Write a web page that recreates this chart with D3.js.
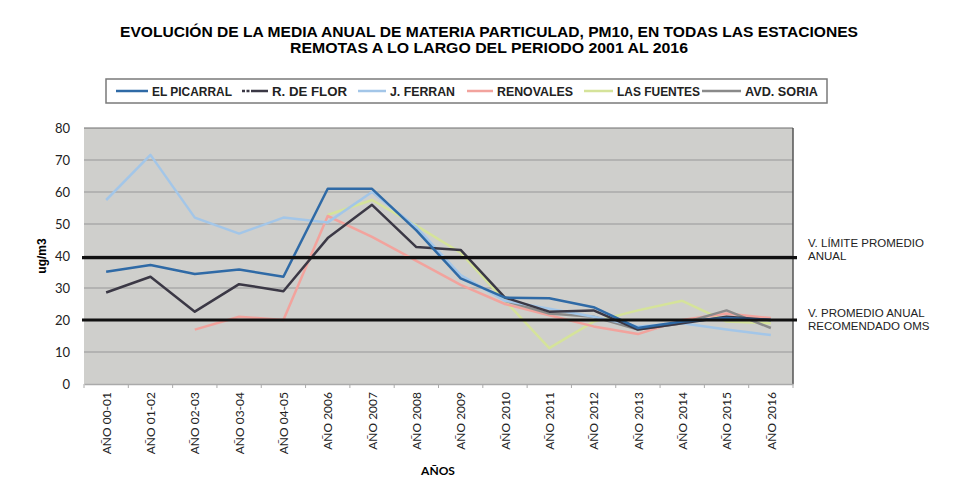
<!DOCTYPE html>
<html>
<head>
<meta charset="utf-8">
<script src="https://cdn.jsdelivr.net/npm/d3@7"></script>
<style>
  body { margin: 0; background: #fff; }
  text { font-family: "Liberation Sans", Arial, sans-serif; }
</style>
</head>
<body>
<div id="chart"></div>
<script>
var years = ['AÑO 00-01', 'AÑO 01-02', 'AÑO 02-03', 'AÑO 03-04', 'AÑO 04-05', 'AÑO 2006', 'AÑO 2007', 'AÑO 2008',
    'AÑO 2009', 'AÑO 2010', 'AÑO 2011', 'AÑO 2012', 'AÑO 2013', 'AÑO 2014', 'AÑO 2015', 'AÑO 2016'];

var elPicarral = [35.1, 37.2, 34.4, 35.8, 33.5, 61, 61, 48, 33, 27, 26.8, 24, 17.5, 19.5, 20.6, 20];
var rDeFlor = [28.6, 33.5, 22.6, 31.2, 29, 45.6, 56, 42.8, 41.9, 27, 22.6, 23, 17, 19, 21, 20];
var jFerran = [57.5, 71.6, 52, 47, 52, 50.5, 60, 49, 34, 26, 23.5, 21, 18, 19, 17, 15.3];
var renovales = [null, null, 17, 21, 20, 52.5, 46, 38.5, 31, 25, 21.5, 18, 15.6, 20, 22, 20.6];
var lasFuentes = [null, null, null, null, null, 52.8, 57.5, 49.5, 41, 26, 11.2, 19.5, 23, 26, 19.5, 19];
var avdSoria = [null, null, null, null, null, null, null, null, null, 26, 22, 21, 17, 19, 23, 17.5];

var seriesNames = ['EL PICARRAL', 'R. DE FLOR', 'J. FERRAN', 'RENOVALES', 'LAS FUENTES', 'AVD. SORIA'];
var seriesColors = ['#2f6aa6', '#3b3845', '#a3c6e8', '#f2a39d', '#d5e39a', '#8a8a8a'];
var yTicks = [0, 10, 20, 30, 40, 50, 60, 70, 80];
var limitValues = [39.5, 20];

var width = 958,
    height = 499;

var series = [elPicarral, rDeFlor, jFerran, renovales, lasFuentes, avdSoria].map(function (vals, i) {
    return { name: seriesNames[i], color: seriesColors[i], values: vals };
});

var svg = d3.select('#chart').append('svg')
    .attr('width', width)
    .attr('height', height);

var x = d3.scalePoint()
    .domain(years)
    .range([84, 793])
    .padding(0.5);

var y = d3.scaleLinear()
    .domain([0, 80])
    .range([384, 128]);

// title
svg.append('text')
    .attr('x', 489).attr('y', 37)
    .attr('text-anchor', 'middle')
    .attr('textLength', 738).attr('lengthAdjust', 'spacingAndGlyphs')
    .style('font-size', '14px').style('font-weight', 'bold')
    .text('EVOLUCIÓN  DE LA MEDIA ANUAL DE MATERIA PARTICULAD, PM10, EN TODAS LAS ESTACIONES');
svg.append('text')
    .attr('x', 489).attr('y', 53)
    .attr('text-anchor', 'middle')
    .attr('textLength', 398).attr('lengthAdjust', 'spacingAndGlyphs')
    .style('font-size', '14px').style('font-weight', 'bold')
    .text('REMOTAS A LO LARGO DEL PERIODO 2001 AL 2016');

// legend
var legend = svg.append('g');
legend.append('rect')
    .attr('x', 106).attr('y', 79)
    .attr('width', 721).attr('height', 24)
    .attr('fill', '#fff')
    .attr('stroke', '#7a7a7a')
    .attr('stroke-width', 1.5);

var legendLineX = [116, 242, 358, 467, 584, 702];
var legendTextX = [152, 272, 390, 497, 617, 745];
var legendTextW = [80, 75, 65, 76, 83, 73];
series.forEach(function (s, i) {
    legend.append('line')
        .attr('x1', legendLineX[i]).attr('x2', legendTextX[i] - 4)
        .attr('y1', 91).attr('y2', 91)
        .attr('stroke', s.color)
        .attr('stroke-width', 2.5)
        .attr('stroke-dasharray', i === 1 ? '3,1.5,3,1.5,20' : null);
    legend.append('text')
        .attr('x', legendTextX[i]).attr('y', 95.5)
        .attr('textLength', legendTextW[i]).attr('lengthAdjust', 'spacingAndGlyphs')
        .style('font-size', '12px').style('font-weight', 'bold')
        .attr('fill', '#222')
        .text(s.name);
});

// plot area
var plot = svg.append('g');
plot.append('rect')
    .attr('x', 84).attr('y', 128)
    .attr('width', 709).attr('height', 256)
    .attr('fill', '#cfcfcc');

plot.selectAll('.grid')
    .data(yTicks.slice(1))
    .enter().append('line')
    .attr('x1', 84).attr('x2', 793)
    .attr('y1', function (d) { return y(d); })
    .attr('y2', function (d) { return y(d); })
    .attr('stroke', function (d) { return d === 80 ? '#6e6e6e' : '#979797'; })
    .attr('stroke-width', 1.2);

plot.append('line')
    .attr('x1', 793).attr('x2', 793)
    .attr('y1', 128).attr('y2', 384)
    .attr('stroke', '#555')
    .attr('stroke-width', 1.5);

// y axis
var yAxis = svg.append('g')
    .attr('transform', 'translate(84,0)')
    .call(d3.axisLeft(y).tickValues(yTicks).tickSize(0).tickPadding(14));
yAxis.select('.domain').remove();
yAxis.selectAll('text')
    .style('font-family', 'Lato, "Open Sans", sans-serif')
    .style('font-size', '13px')
    .attr('fill', '#222');

// x axis
var xAxis = svg.append('g')
    .attr('transform', 'translate(0,384)')
    .call(d3.axisBottom(x).tickSize(0));
xAxis.select('.domain').attr('stroke', '#aaa').attr('stroke-width', 1.5);
xAxis.selectAll('text')
    .style('font-family', 'Lato, "Open Sans", sans-serif')
    .style('font-size', '12px')
    .attr('fill', '#222')
    .attr('text-anchor', 'end')
    .attr('transform', 'rotate(-90)')
    .attr('x', -8).attr('y', 0).attr('dy', '0.35em');

var step = x.step();
svg.append('g').selectAll('line')
    .data(years.concat(['end']))
    .enter().append('line')
    .attr('x1', function (d, i) { return 84 + i * step; })
    .attr('x2', function (d, i) { return 84 + i * step; })
    .attr('y1', 384).attr('y2', 388)
    .attr('stroke', '#aaa');

// series lines
var line = d3.line()
    .defined(function (d) { return d != null; })
    .x(function (d, i) { return x(years[i]); })
    .y(function (d) { return y(d); });

var order = [4, 3, 5, 2, 1, 0];
order.forEach(function (k) {
    var s = series[k];
    svg.append('path')
        .datum(s.values)
        .attr('fill', 'none')
        .attr('stroke', s.color)
        .attr('stroke-width', 2.5)
        .attr('stroke-linejoin', 'round')
        .attr('d', line);
});

// limit lines
svg.selectAll('.limit')
    .data(limitValues)
    .enter().append('line')
    .attr('x1', 82).attr('x2', 797)
    .attr('y1', function (d) { return y(d); })
    .attr('y2', function (d) { return y(d); })
    .attr('stroke', '#111')
    .attr('stroke-width', 3.2);

// annotations
var notes = [['V. LÍMITE PROMEDIO', 'ANUAL'], ['V. PROMEDIO ANUAL', 'RECOMENDADO  OMS']];
var noteY = [247, 317];
notes.forEach(function (n, i) {
    n.forEach(function (t, j) {
        svg.append('text')
            .attr('x', 808).attr('y', noteY[i] + j * 13)
            .style('font-size', '11.5px')
            .attr('fill', '#222')
            .text(t);
    });
});

// axis titles
svg.append('text')
    .attr('transform', 'translate(46,256) rotate(-90)')
    .attr('text-anchor', 'middle')
    .style('font-size', '12px').style('font-weight', 'bold')
    .text('ug/m3');

svg.append('text')
    .attr('x', 438).attr('y', 475)
    .attr('text-anchor', 'middle')
    .style('font-family', 'Lato, "Open Sans", sans-serif')
    .style('font-size', '12px').style('font-weight', 'bold')
    .text('AÑOS');
</script>
</body>
</html>
